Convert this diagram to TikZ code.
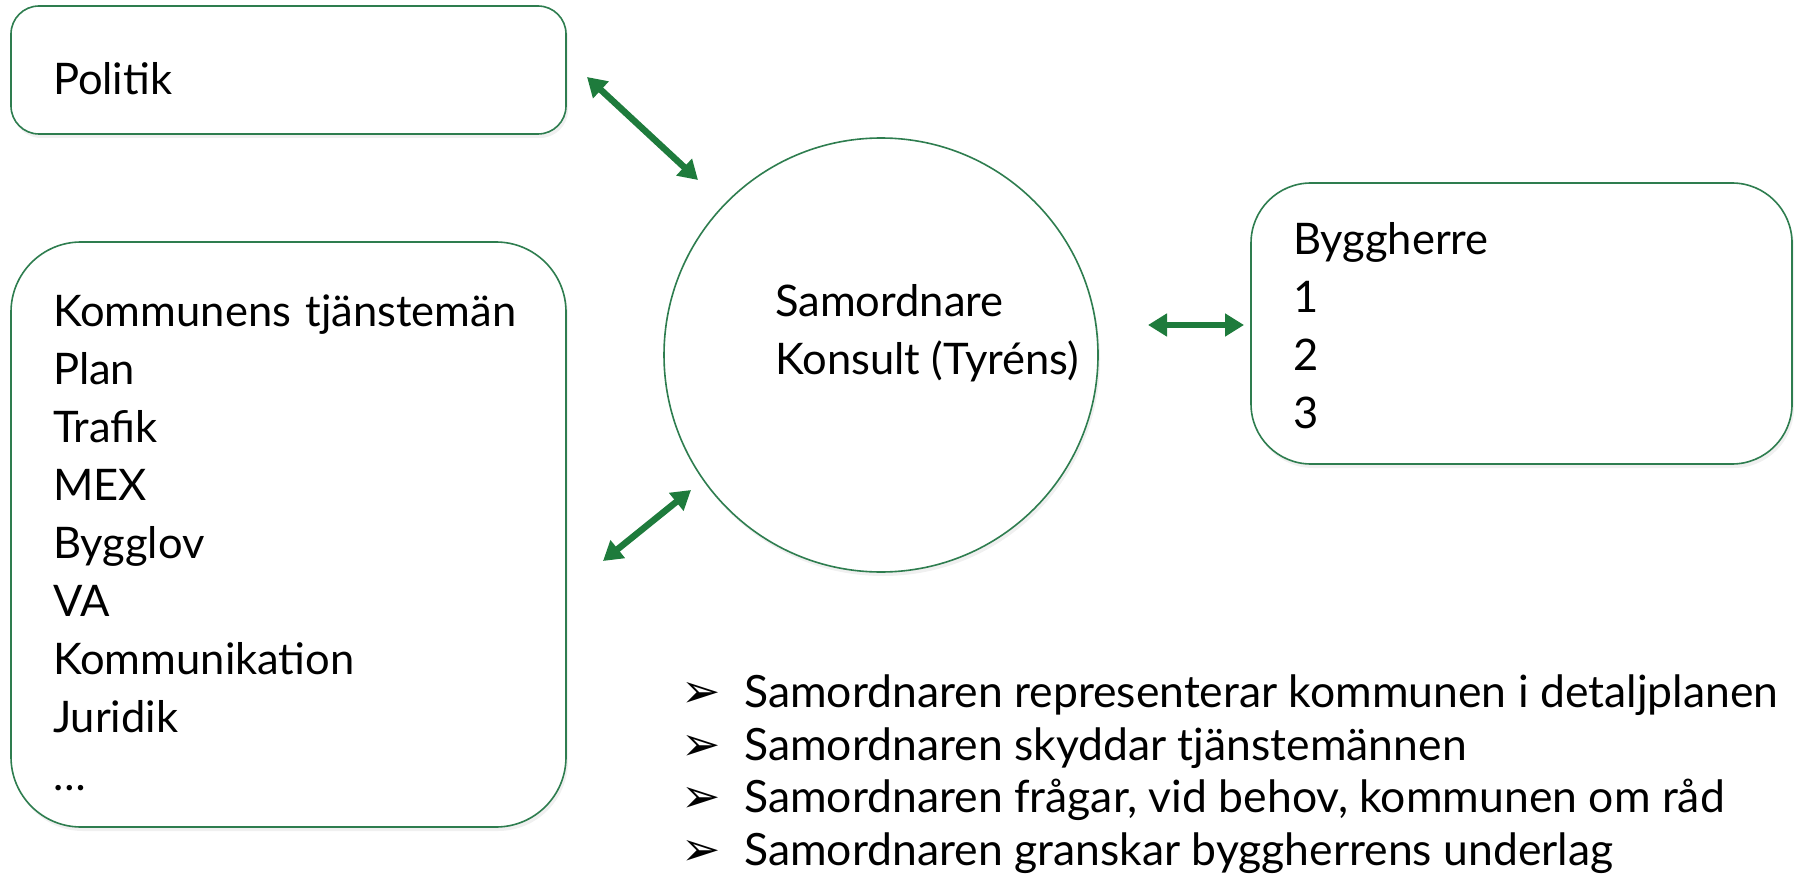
\documentclass[tikz,border=0pt]{standalone}
\usepackage{fontspec}
\setmainfont{Lato}
\newfontfamily\symfont{DejaVu Sans}
\usetikzlibrary{arrows.meta,shadows}

\definecolor{boxgreen}{HTML}{2E7D4F}
\definecolor{arrowgreen}{HTML}{1E7B3C}

\newcommand{\pil}{\makebox[63pt][l]{\symfont\fontsize{47}{47}\selectfont ➢}}

\tikzset{
  box/.style={draw=boxgreen,line width=1.6pt,fill=white,align=left,
    inner xsep=42pt,inner ysep=0pt,
    drop shadow={opacity=0.12,shadow xshift=2pt,shadow yshift=-4pt},
    font=\fontsize{43.5}{58}\selectfont},
  link/.style={draw=arrowgreen,line width=6.5pt,
    {Triangle[length=19pt,width=22pt]}-{Triangle[length=19pt,width=22pt]}},
  note/.style={anchor=west,inner sep=0pt,font=\fontsize{44.5}{52}\selectfont}
}

\begin{document}
\begin{tikzpicture}[x=1pt,y=-1pt]
	\useasboundingbox (0,0) rectangle (1795,893);

	\node[box,rounded corners=28pt,minimum width=555pt,minimum height=128pt,
	text width=471pt,text height=50pt] (politik)
	at (288.5,70) {Politik};

	\node[box,rounded corners=70pt,minimum width=555pt,minimum height=585pt,
	text width=471pt,text height=49pt] (kommun)
	at (288.5,534.5) {Kommunens tjänstemän\\Plan\\Trafik\\MEX\\Bygglov\\VA\\Kommunikation\\Juridik\\\dots};

	\node[box,rounded corners=60pt,minimum width=541pt,minimum height=281pt,
	text width=457pt,text height=37pt] (byggherre)
	at (1521.5,323.5) {Byggherre\\1\\2\\3};

	\node[circle,draw=boxgreen,line width=1.6pt,fill=white,minimum size=434pt,
	drop shadow={opacity=0.12,shadow xshift=2pt,shadow yshift=-4pt}] (samordnare)
	at (881,355) {};
	\node[align=left,anchor=west,inner sep=0pt,font=\fontsize{43.5}{58}\selectfont] (samtext)
	at (775,333) {Samordnare\\Konsult (Tyréns)};

	% pilar
	\coordinate (p1) at (587,77);
	\coordinate (p2) at (698,180);
	\coordinate (k1) at (603,561);
	\coordinate (k2) at (691,490);
	\coordinate (b1) at (1148,325);
	\coordinate (b2) at (1244,325);
	\draw[link] (p1) -- (p2);
	\draw[link] (k1) -- (k2);
	\draw[link] (b1) -- (b2);

	% punkter
	\node[note] (n1) at (681,695) {\pil Samordnaren representerar kommunen i detaljplanen};
	\node[note] (n2) at (681,748) {\pil Samordnaren skyddar tjänstemännen};
	\node[note] (n3) at (681,800) {\pil Samordnaren frågar, vid behov, kommunen om råd};
	\node[note] (n4) at (681,853) {\pil Samordnaren granskar byggherrens underlag};
\end{tikzpicture}
\end{document}
